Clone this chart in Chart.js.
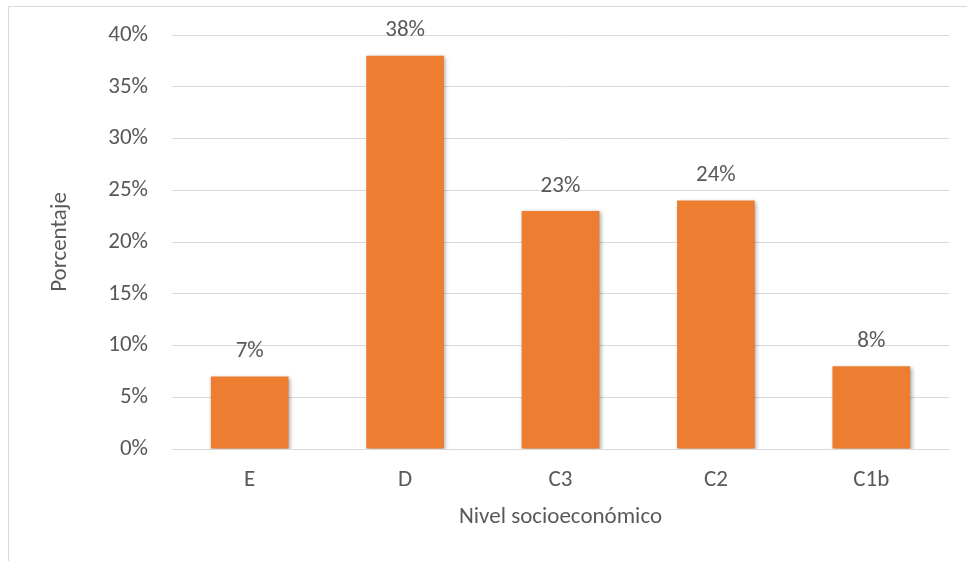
<!DOCTYPE html>
<html>
<head>
<meta charset="utf-8">
<script src="https://cdn.jsdelivr.net/npm/chart.js@4/dist/chart.umd.min.js"></script>
<style>
  html, body { margin: 0; padding: 0; background: #fff; }
  #wrap { position: relative; width: 967px; height: 561px; overflow: hidden; }
  #frame { position: absolute; left: 8px; top: 6px; width: 1100px; height: 700px; border: 1px solid #d9d9d9; box-sizing: border-box; }
  canvas { position: absolute; left: 0; top: 0; }
</style>
</head>
<body>
<div id="wrap">
  <div id="frame"></div>
  <canvas id="c" width="967" height="561"></canvas>
</div>
<script>
const categories = ["E", "D", "C3", "C2", "C1b"];
const porcentajes = [7, 38, 23, 24, 8];
const yTicks = [0, 5, 10, 15, 20, 25, 30, 35, 40];
const xTitle = "Nivel socioeconómico";
const yTitle = "Porcentaje";

const FONT = "Carlito, 'Open Sans', sans-serif";
const FS = 23;
const TXT = "#595959";

const shadowPlugin = {
  id: 'barShadow',
  beforeDatasetsDraw(chart) {
    const ctx = chart.ctx;
    ctx.save();
    ctx.shadowColor = 'rgba(0,0,0,0.35)';
    ctx.shadowBlur = 4;
    ctx.shadowOffsetX = 1.5;
    ctx.shadowOffsetY = 1.5;
  },
  afterDatasetsDraw(chart) {
    chart.ctx.restore();
  }
};

const labelPlugin = {
  id: 'valueLabels',
  afterDatasetsDraw(chart) {
    const ctx = chart.ctx;
    const meta = chart.getDatasetMeta(0);
    ctx.save();
    ctx.font = FS + "px " + FONT;
    ctx.fillStyle = TXT;
    ctx.textAlign = 'center';
    ctx.textBaseline = 'middle';
    meta.data.forEach((bar, i) => {
      ctx.fillText(chart.data.datasets[0].data[i] + '%', bar.x, bar.y - 25);
    });
    ctx.restore();
  }
};

new Chart(document.getElementById('c'), {
  type: 'bar',
  data: {
    labels: categories,
    datasets: [{
      data: porcentajes,
      backgroundColor: '#ED7D31',
      borderWidth: 0,
      barPercentage: 0.5,
      categoryPercentage: 1.0
    }]
  },
  options: {
    responsive: false,
    animation: false,
    devicePixelRatio: 1,
    layout: { padding: { left: 40, top: 35, right: 18, bottom: 30 } },
    plugins: { legend: { display: false }, tooltip: { enabled: false } },
    scales: {
      x: {
        grid: { display: false, drawTicks: false },
        border: { display: true, color: '#d9d9d9', width: 1 },
        ticks: { color: TXT, font: { family: FONT, size: FS }, padding: 17 },
        title: { display: true, text: xTitle, color: TXT, font: { family: FONT, size: FS }, padding: 0 },
        afterFit(scale) { scale.height = 82; scale.paddingLeft = 0; scale.paddingRight = 0; }
      },
      y: {
        min: 0, max: 40,
        afterBuildTicks(scale) { scale.ticks = yTicks.map(v => ({ value: v })); },
        grid: { color: '#d9d9d9', lineWidth: 1, drawTicks: false },
        border: { display: false },
        ticks: { color: TXT, font: { family: FONT, size: FS }, padding: 24, callback: v => v + '%' },
        title: { display: true, text: yTitle, color: TXT, font: { family: FONT, size: FS }, padding: { top: 6, bottom: 0 } },
        afterFit(scale) { scale.width = 132; scale.paddingTop = 0; scale.paddingBottom = 0; }
      }
    }
  },
  plugins: [shadowPlugin, labelPlugin]
});
</script>
</body>
</html>
